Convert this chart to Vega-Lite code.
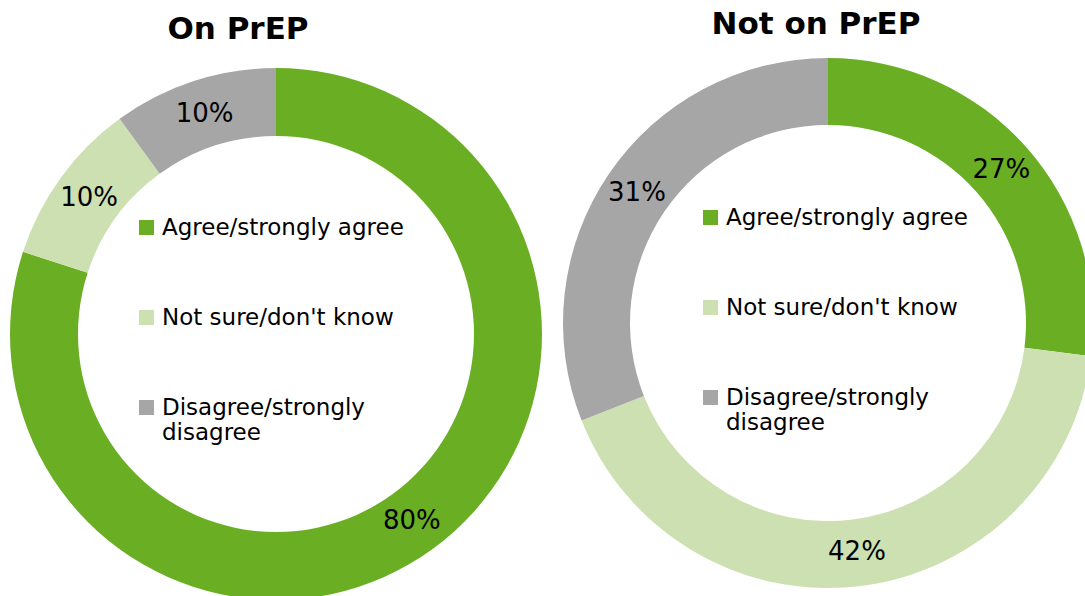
{
  "$schema": "https://vega.github.io/schema/vega-lite/v6.json",
  "padding": {"top": 9, "left": 0, "right": 0, "bottom": 0},
  "spacing": 0,
  "background": "white",
  "config": {"view": {"stroke": null}, "font": "DejaVu Sans"},
  "datasets": {
    "d": [
      {"group": "On PrEP", "response": "Agree/strongly agree", "ord": 1, "value": 0.80},
      {"group": "On PrEP", "response": "Not sure/don't know", "ord": 2, "value": 0.10},
      {"group": "On PrEP", "response": "Disagree/strongly disagree", "ord": 3, "value": 0.10},
      {"group": "Not on PrEP", "response": "Agree/strongly agree", "ord": 1, "value": 0.27},
      {"group": "Not on PrEP", "response": "Not sure/don't know", "ord": 2, "value": 0.42},
      {"group": "Not on PrEP", "response": "Disagree/strongly disagree", "ord": 3, "value": 0.31}
    ]
  },
  "resolve": {"scale": {"color": "independent", "theta": "independent"}, "legend": {"color": "independent"}},
  "hconcat": [
    {
      "width": 552,
      "height": 568,
      "title": {"text": "On PrEP", "fontSize": 31, "fontWeight": "bold", "font": "DejaVu Sans", "dx": -38, "color": "black"},
      "data": {"name": "d"},
      "transform": [{"filter": "datum.group == 'On PrEP'"}],
      "encoding": {
        "theta": {"field": "value", "type": "quantitative", "stack": true},
        "order": {"field": "ord", "type": "quantitative"}
      },
      "layer": [
        {
          "mark": {"type": "arc", "innerRadius": 198, "outerRadius": 266},
          "encoding": {
            "color": {
              "field": "response", "type": "nominal",
              "scale": {"domain": ["Agree/strongly agree", "Not sure/don't know", "Disagree/strongly disagree"], "range": ["#6aaf23", "#cde0b2", "#a6a6a6"]},
              "legend": {
                "title": null, "orient": "none", "legendX": 135, "legendY": 166,
                "padding": 0, "symbolType": "square", "symbolSize": 225, "symbolStrokeWidth": 0,
                "labelFontSize": 23, "labelFont": "DejaVu Sans", "labelColor": "black", "labelLimit": 400, "labelOffset": 4,
                "rowPadding": 66,
                "labelExpr": "datum.label == 'Disagree/strongly disagree' ? ['Disagree/strongly', 'disagree'] : datum.label"
              }
            }
          }
        },
        {
          "mark": {"type": "text", "radius": 231, "fontSize": 26, "font": "DejaVu Sans", "color": "black"},
          "encoding": {"text": {"field": "value", "type": "quantitative", "format": ".0%"}}
        }
      ]
    },
    {
      "width": 552,
      "height": 546,
      "title": {"text": "Not on PrEP", "fontSize": 31, "fontWeight": "bold", "font": "DejaVu Sans", "dx": -12, "dy": -5, "color": "black"},
      "data": {"name": "d"},
      "transform": [{"filter": "datum.group == 'Not on PrEP'"}],
      "encoding": {
        "theta": {"field": "value", "type": "quantitative", "stack": true},
        "order": {"field": "ord", "type": "quantitative"}
      },
      "layer": [
        {
          "mark": {"type": "arc", "innerRadius": 198, "outerRadius": 265},
          "encoding": {
            "color": {
              "field": "response", "type": "nominal",
              "scale": {"domain": ["Agree/strongly agree", "Not sure/don't know", "Disagree/strongly disagree"], "range": ["#6aaf23", "#cde0b2", "#a6a6a6"]},
              "legend": {
                "title": null, "orient": "none", "legendX": 147, "legendY": 156,
                "padding": 0, "symbolType": "square", "symbolSize": 225, "symbolStrokeWidth": 0,
                "labelFontSize": 23, "labelFont": "DejaVu Sans", "labelColor": "black", "labelLimit": 400, "labelOffset": 4,
                "rowPadding": 66,
                "labelExpr": "datum.label == 'Disagree/strongly disagree' ? ['Disagree/strongly', 'disagree'] : datum.label"
              }
            }
          }
        },
        {
          "mark": {"type": "text", "radius": 231, "fontSize": 26, "font": "DejaVu Sans", "color": "black"},
          "encoding": {"text": {"field": "value", "type": "quantitative", "format": ".0%"}}
        }
      ]
    }
  ]
}
